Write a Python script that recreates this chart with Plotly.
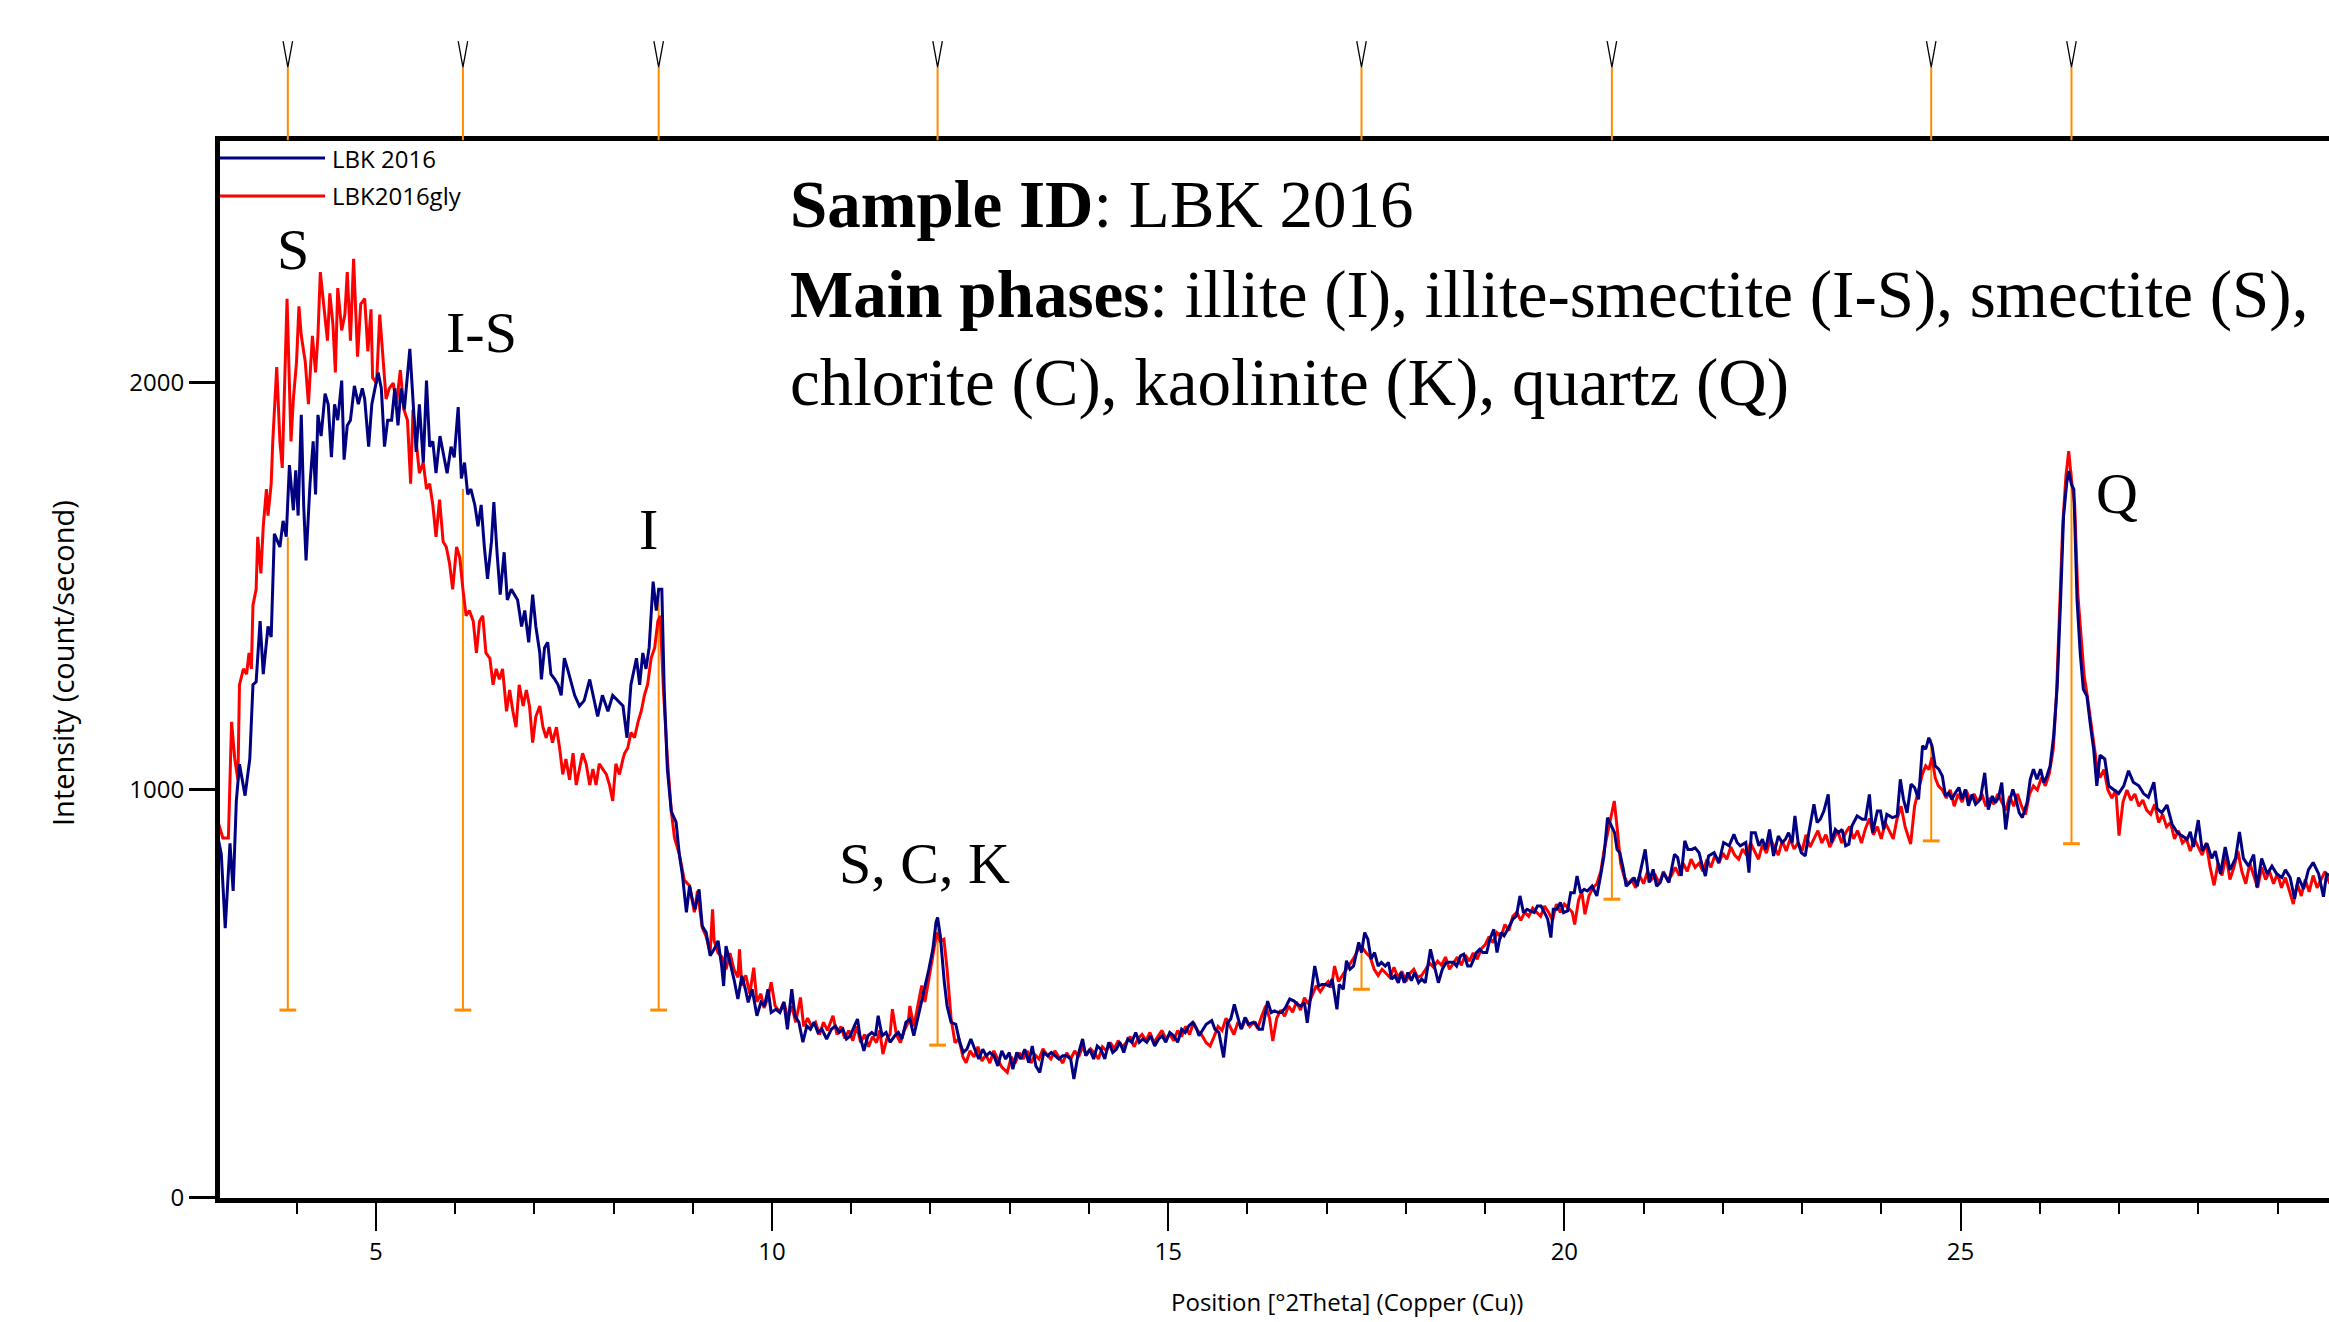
import plotly.graph_objects as go

# ---------------- data ----------------
# LBK 2016 (air-dried), (2theta, counts/s)
lbk2016 = [
(3.01,882),(3.05,843),(3.10,661),(3.16,869),(3.20,752),(3.24,973),(3.28,1063),(3.35,986),(3.41,1076),(3.45,1258),
(3.49,1265),(3.54,1414),(3.58,1284),(3.64,1401),(3.68,1375),(3.72,1628),(3.79,1596),(3.83,1660),(3.87,1621),(3.91,1797),
(3.96,1686),(3.99,1784),(4.02,1673),(4.06,1920),(4.09,1699),(4.12,1563),(4.17,1751),(4.21,1855),(4.24,1725),(4.27,1920),
(4.31,1868),(4.36,1972),(4.40,1946),(4.44,1816),(4.48,1946),(4.52,1907),(4.57,2004),(4.60,1810),(4.64,1894),(4.68,1907),
(4.73,1991),(4.78,1946),(4.83,1985),(4.86,1959),(4.91,1842),(4.95,1946),(4.99,1985),(5.03,2024),(5.07,1985),(5.11,1842),
(5.15,1907),(5.20,1907),(5.24,1985),(5.28,1894),(5.32,1985),(5.36,1933),(5.43,2082),(5.47,1946),(5.51,1829),(5.55,1946),
(5.60,1803),(5.64,2004),(5.68,1842),(5.72,1855),(5.76,1777),(5.81,1868),(5.85,1829),(5.90,1777),(5.95,1842),(5.99,1816),
(6.04,1939),(6.08,1764),(6.12,1803),(6.16,1725),(6.20,1738),(6.25,1699),(6.29,1647),(6.33,1699),(6.37,1596),(6.41,1518),
(6.46,1609),(6.49,1706),(6.53,1583),(6.57,1479),(6.62,1583),(6.66,1466),(6.71,1492),(6.75,1479),(6.79,1466),(6.84,1401),
(6.88,1440),(6.93,1362),(6.98,1479),(7.02,1401),(7.07,1336),(7.09,1271),(7.13,1349),(7.17,1362),(7.21,1284),(7.26,1271),
(7.30,1258),(7.34,1232),(7.38,1323),(7.42,1297),(7.47,1258),(7.51,1232),(7.57,1206),(7.63,1219),(7.70,1271),(7.74,1232),
(7.80,1180),(7.86,1232),(7.93,1193),(7.99,1232),(8.05,1219),(8.12,1206),(8.17,1128),(8.22,1258),(8.29,1323),(8.33,1258),
(8.37,1336),(8.41,1297),(8.45,1349),(8.50,1511),(8.54,1440),(8.57,1492),(8.61,1492),(8.64,1245),(8.68,1050),(8.73,947),
(8.79,921),(8.83,843),(8.87,791),(8.92,700),(8.96,765),(9.00,726),(9.03,707),(9.06,739),(9.08,756),(9.12,666),
(9.17,650),(9.22,593),(9.27,609),(9.32,630),(9.365,568),(9.39,519),(9.42,617),(9.47,577),(9.52,536),(9.57,487),
(9.62,544),(9.665,511),(9.70,479),(9.75,511),(9.81,446),(9.86,479),(9.906,470),(9.95,511),(9.99,454),(10.05,462),
(10.10,454),(10.15,479),(10.195,413),(10.25,511),(10.29,446),(10.34,430),(10.39,381),(10.44,421),(10.485,413),(10.53,430),
(10.58,405),(10.63,413),(10.69,389),(10.75,413),(10.80,421),(10.85,405),(10.895,413),(10.94,389),(10.99,397),(11.04,421),
(11.08,438),(11.11,397),(11.16,360),(11.21,397),(11.26,405),(11.306,397),(11.34,446),(11.39,397),(11.44,405),(11.49,381),
(11.55,397),(11.595,405),(11.64,389),(11.69,430),(11.74,438),(11.79,397),(11.84,438),(11.885,479),(11.93,511),(11.98,560),
(12.03,609),(12.07,675),(12.09,687),(12.125,642),(12.175,528),(12.21,470),(12.26,430),(12.32,425),(12.37,381),(12.415,356),
(12.46,364),(12.51,389),(12.56,364),(12.61,340),(12.66,364),(12.705,348),(12.75,356),(12.80,348),(12.85,323),(12.90,360),
(12.95,340),(12.995,356),(13.04,315),(13.09,356),(13.14,340),(13.19,364),(13.24,331),(13.285,372),(13.33,323),(13.38,307),
(13.43,356),(13.48,348),(13.525,356),(13.57,348),(13.62,340),(13.67,348),(13.72,348),(13.77,340),(13.81,291),(13.86,348),
(13.92,389),(13.96,348),(14.01,364),(14.06,340),(14.105,372),(14.15,364),(14.20,340),(14.25,381),(14.30,356),(14.346,364),
(14.39,381),(14.44,356),(14.49,389),(14.54,381),(14.59,405),(14.636,381),(14.68,389),(14.73,381),(14.78,397),(14.83,372),
(14.88,389),(14.925,397),(14.97,381),(15.02,405),(15.07,397),(15.12,381),(15.17,413),(15.215,405),(15.26,421),(15.31,430),
(15.36,413),(15.39,397),(15.44,413),(15.48,425),(15.55,434),(15.59,413),(15.64,405),(15.70,344),(15.75,429),(15.79,438),
(15.835,474),(15.88,438),(15.92,413),(15.97,442),(16.01,425),(16.06,429),(16.10,429),(16.145,413),(16.19,413),(16.255,482),
(16.30,454),(16.34,458),(16.39,454),(16.43,454),(16.48,466),(16.534,487),(16.59,482),(16.63,474),(16.676,470),(16.72,478),
(16.755,429),(16.80,495),(16.85,568),(16.90,519),(16.94,523),(16.985,523),(17.03,519),(17.07,536),(17.13,462),(17.16,523),
(17.21,511),(17.25,581),(17.295,560),(17.34,568),(17.405,626),(17.44,601),(17.48,650),(17.52,634),(17.56,585),(17.605,601),
(17.65,568),(17.69,577),(17.74,568),(17.78,577),(17.82,536),(17.86,544),(17.905,527),(17.94,552),(17.98,527),(18.025,552),
(18.07,532),(18.11,552),(18.16,527),(18.20,536),(18.245,527),(18.31,609),(18.356,568),(18.41,527),(18.46,560),(18.51,577),
(18.555,577),(18.60,577),(18.64,568),(18.69,593),(18.73,597),(18.78,568),(18.82,568),(18.89,601),(18.93,609),(18.97,601),
(19.02,601),(19.06,634),(19.11,658),(19.15,601),(19.20,650),(19.24,642),(19.285,658),(19.35,683),(19.395,691),(19.44,740),
(19.484,699),(19.53,707),(19.57,703),(19.62,699),(19.66,715),(19.705,715),(19.75,699),(19.79,683),(19.83,638),(19.86,707),
(19.904,707),(19.95,724),(19.99,699),(20.04,703),(20.08,748),(20.125,748),(20.16,789),(20.205,748),(20.25,756),(20.29,752),
(20.35,764),(20.41,740),(20.457,789),(20.50,838),(20.545,932),(20.59,911),(20.634,895),(20.665,854),(20.70,846),(20.745,805),
(20.78,764),(20.83,773),(20.88,785),(20.92,764),(20.965,801),(21.02,854),(21.07,773),(21.12,805),(21.165,764),(21.21,773),
(21.25,797),(21.32,773),(21.39,842),(21.43,834),(21.475,789),(21.52,875),(21.56,854),(21.61,854),(21.65,858),(21.70,846),
(21.74,814),(21.78,789),(21.82,838),(21.89,846),(21.95,822),(22.01,871),(22.08,863),(22.14,891),(22.18,871),(22.22,863),
(22.29,871),(22.33,797),(22.36,895),(22.41,895),(22.455,863),(22.50,879),(22.54,854),(22.59,903),(22.64,838),(22.70,887),
(22.75,871),(22.79,879),(22.83,895),(22.875,871),(22.91,936),(22.95,871),(22.99,846),(23.04,838),(23.085,895),(23.15,965),
(23.19,920),(23.23,928),(23.275,948),(23.33,989),(23.37,871),(23.42,903),(23.46,895),(23.505,903),(23.55,863),(23.59,867),
(23.63,912),(23.695,936),(23.76,928),(23.80,928),(23.85,989),(23.89,895),(23.95,948),(23.99,948),(24.03,903),(24.07,940),
(24.14,932),(24.20,936),(24.24,1026),(24.28,977),(24.325,944),(24.375,1014),(24.42,1006),(24.47,977),(24.52,1108),(24.56,1100),
(24.60,1128),(24.64,1108),(24.68,1059),(24.725,1051),(24.77,1034),(24.81,985),(24.85,993),(24.89,977),(24.935,993),(24.98,1006),
(25.02,977),(25.06,1001),(25.10,961),(25.145,989),(25.19,965),(25.25,977),(25.305,1042),(25.35,952),(25.40,985),(25.44,969),
(25.48,981),(25.52,1018),(25.57,903),(25.615,969),(25.66,1001),(25.70,977),(25.74,944),(25.78,932),(25.84,969),(25.88,1026),
(25.92,1051),(25.965,1026),(26.01,1051),(26.05,1018),(26.09,1034),(26.13,1059),(26.175,1132),(26.22,1255),(26.26,1451),(26.30,1671),
(26.34,1753),(26.365,1782),(26.40,1749),(26.43,1737),(26.47,1467),(26.51,1336),(26.55,1247),(26.595,1230),(26.64,1157),(26.68,1100),
(26.72,1010),(26.76,1085),(26.82,1076),(26.87,1010),(26.93,1001),(26.995,991),(27.06,1010),(27.12,1047),(27.18,1019),(27.25,1010),
(27.31,991),(27.37,982),(27.44,1019),(27.48,954),(27.54,944),(27.605,963),(27.67,916),(27.73,897),(27.79,888),(27.86,879),
(27.90,897),(27.94,860),(28.00,926),(28.05,851),(28.11,869),(28.17,832),(28.215,850),(28.28,794),(28.34,860),(28.40,804),
(28.47,832),(28.52,897),(28.57,832),(28.635,813),(28.70,841),(28.74,761),(28.80,832),(28.87,794),(28.93,813),(28.99,794),
(29.055,785),(29.10,804),(29.16,785),(29.215,733),(29.265,785),(29.33,757),(29.39,804),(29.45,822),(29.52,794),(29.58,738),
(29.62,794),(29.66,790),
]

# LBK2016gly (glycolated), (2theta, counts/s)
lbk2016gly = [
(3.01,921),(3.07,882),(3.14,882),(3.18,1167),(3.22,1076),(3.26,1025),(3.28,1258),(3.33,1297),(3.37,1284),(3.40,1336),
(3.43,1297),(3.45,1453),(3.49,1492),(3.51,1621),(3.55,1531),(3.58,1647),(3.62,1738),(3.64,1673),(3.68,1751),(3.70,1855),
(3.75,2037),(3.79,1855),(3.82,1790),(3.85,2024),(3.88,2205),(3.93,1855),(3.96,1959),(4.00,2050),(4.03,2186),(4.06,2114),
(4.11,2050),(4.15,1946),(4.20,2114),(4.24,2024),(4.27,2114),(4.30,2270),(4.35,2179),(4.39,2102),(4.42,2218),(4.46,2140),
(4.49,2024),(4.52,2231),(4.57,2127),(4.61,2166),(4.64,2270),(4.68,2102),(4.72,2303),(4.77,2063),(4.81,2192),(4.86,2205),
(4.90,2076),(4.94,2179),(4.96,2011),(5.01,1998),(5.05,2166),(5.09,2063),(5.13,1959),(5.17,1985),(5.22,1998),(5.26,1946),
(5.31,2030),(5.355,1933),(5.40,1907),(5.44,1751),(5.47,1933),(5.51,1855),(5.55,1777),(5.60,1803),(5.64,1738),(5.68,1751),
(5.72,1699),(5.76,1621),(5.805,1712),(5.85,1609),(5.89,1596),(5.93,1557),(5.97,1492),(6.02,1596),(6.06,1570),(6.10,1492),
(6.14,1427),(6.18,1440),(6.23,1414),(6.27,1336),(6.31,1414),(6.35,1427),(6.39,1336),(6.44,1323),(6.48,1258),(6.52,1297),
(6.56,1271),(6.60,1297),(6.65,1193),(6.69,1245),(6.73,1193),(6.77,1154),(6.81,1258),(6.86,1206),(6.90,1245),(6.94,1206),
(6.98,1116),(7.02,1180),(7.07,1206),(7.11,1154),(7.15,1128),(7.19,1154),(7.23,1116),(7.28,1154),(7.32,1103),(7.36,1038),
(7.40,1076),(7.445,1025),(7.49,1090),(7.53,1012),(7.57,1051),(7.61,1090),(7.655,1064),(7.70,1012),(7.74,1051),(7.78,1012),
(7.82,1064),(7.865,1051),(7.91,1038),(7.95,1012),(7.99,973),(8.03,1064),(8.075,1038),(8.12,1076),(8.14,1090),(8.18,1103),
(8.22,1141),(8.265,1128),(8.31,1167),(8.35,1193),(8.39,1232),(8.43,1258),(8.475,1323),(8.52,1349),(8.56,1414),(8.59,1427),
(8.63,1245),(8.68,1076),(8.73,947),(8.77,882),(8.83,843),(8.895,778),(8.96,765),(9.02,700),(9.06,752),(9.12,662),
(9.17,640),(9.22,600),(9.25,707),(9.27,630),(9.32,600),(9.37,590),(9.42,560),(9.47,600),(9.52,560),(9.57,540),
(9.59,609),(9.62,520),(9.67,545),(9.72,500),(9.77,564),(9.81,480),(9.86,500),(9.90,465),(9.95,490),(9.99,528),
(10.04,470),(10.10,455),(10.15,480),(10.20,440),(10.25,470),(10.30,430),(10.36,491),(10.40,420),(10.45,440),(10.50,420),
(10.55,430),(10.60,400),(10.65,430),(10.70,410),(10.77,446),(10.82,400),(10.87,420),(10.92,390),(10.97,410),(11.02,385),
(11.07,420),(11.12,380),(11.17,400),(11.22,370),(11.27,395),(11.32,380),(11.36,410),(11.40,352),(11.45,390),(11.49,400),
(11.52,462),(11.57,400),(11.62,380),(11.67,410),(11.72,430),(11.74,470),(11.79,420),(11.84,470),(11.89,520),(11.93,480),
(11.98,540),(12.03,590),(12.08,650),(12.12,630),(12.17,634),(12.21,560),(12.26,440),(12.31,380),(12.36,390),(12.41,345),
(12.45,331),(12.50,360),(12.55,345),(12.60,370),(12.65,335),(12.70,350),(12.75,330),(12.80,360),(12.85,340),(12.90,320),
(12.97,307),(13.02,345),(13.07,330),(13.12,355),(13.17,340),(13.22,360),(13.27,330),(13.32,350),(13.37,340),(13.42,365),
(13.47,350),(13.52,340),(13.57,360),(13.62,345),(13.67,330),(13.72,355),(13.77,340),(13.82,360),(13.87,345),(13.92,370),
(13.97,350),(14.02,365),(14.07,355),(14.12,340),(14.17,370),(14.22,360),(14.27,380),(14.32,365),(14.37,385),(14.42,370),
(14.47,380),(14.52,395),(14.57,370),(14.62,390),(14.67,400),(14.72,385),(14.77,405),(14.82,380),(14.87,395),(14.92,410),
(14.97,390),(15.02,400),(15.07,385),(15.12,410),(15.17,395),(15.22,420),(15.27,400),(15.32,430),(15.37,410),(15.42,400),
(15.48,380),(15.53,372),(15.58,395),(15.63,420),(15.68,410),(15.73,440),(15.78,420),(15.83,400),(15.88,430),(15.93,415),
(15.98,440),(16.03,420),(16.08,430),(16.13,415),(16.18,445),(16.23,470),(16.28,440),(16.32,384),(16.37,440),(16.42,460),
(16.47,445),(16.52,470),(16.57,455),(16.62,480),(16.67,460),(16.72,490),(16.77,475),(16.82,500),(16.87,520),(16.92,505),
(16.97,520),(17.02,530),(17.06,515),(17.10,568),(17.15,530),(17.20,545),(17.25,560),(17.30,575),(17.35,590),(17.40,610),
(17.45,613),(17.50,600),(17.55,590),(17.60,560),(17.65,545),(17.70,560),(17.75,550),(17.80,540),(17.85,565),(17.90,540),
(17.95,555),(18.00,530),(18.05,550),(18.10,560),(18.15,540),(18.20,545),(18.25,560),(18.30,575),(18.35,565),(18.40,580),
(18.45,570),(18.50,590),(18.55,560),(18.60,575),(18.65,590),(18.70,570),(18.75,595),(18.80,580),(18.85,600),(18.90,585),
(18.95,610),(19.00,620),(19.05,640),(19.10,625),(19.15,650),(19.20,640),(19.25,670),(19.30,655),(19.35,690),(19.40,700),
(19.45,680),(19.50,700),(19.55,690),(19.60,710),(19.65,700),(19.70,690),(19.75,715),(19.80,700),(19.85,680),(19.90,720),
(19.95,700),(20.00,720),(20.05,710),(20.10,700),(20.13,670),(20.18,730),(20.22,750),(20.26,695),(20.31,740),(20.36,760),
(20.41,770),(20.46,800),(20.50,850),(20.55,900),(20.60,950),(20.63,973),(20.67,900),(20.71,820),(20.75,790),(20.80,770),
(20.85,780),(20.90,760),(20.95,790),(21.00,770),(21.05,800),(21.10,780),(21.15,790),(21.20,770),(21.25,800),(21.30,780),
(21.35,790),(21.40,810),(21.45,790),(21.50,820),(21.55,800),(21.60,830),(21.65,810),(21.70,820),(21.75,800),(21.80,830),
(21.85,810),(21.90,840),(21.95,820),(22.00,845),(22.05,830),(22.10,860),(22.15,840),(22.20,830),(22.25,855),(22.30,840),
(22.35,870),(22.40,850),(22.45,830),(22.50,865),(22.55,845),(22.60,880),(22.65,860),(22.70,840),(22.75,875),(22.80,850),
(22.85,880),(22.90,855),(22.95,870),(23.00,850),(23.05,890),(23.10,860),(23.15,880),(23.20,900),(23.25,870),(23.30,890),
(23.35,860),(23.40,880),(23.45,900),(23.50,870),(23.55,895),(23.60,910),(23.65,880),(23.70,900),(23.75,870),(23.80,905),
(23.85,930),(23.90,890),(23.95,910),(24.00,880),(24.05,920),(24.10,900),(24.15,880),(24.20,930),(24.25,960),(24.30,910),
(24.35,880),(24.37,867),(24.42,960),(24.47,1000),(24.52,1040),(24.56,1059),(24.60,1050),(24.64,1080),(24.68,1030),(24.72,1010),
(24.77,1000),(24.82,980),(24.87,1000),(24.92,960),(24.97,990),(25.02,970),(25.07,1000),(25.12,975),(25.17,990),(25.22,970),
(25.27,990),(25.32,960),(25.37,980),(25.42,965),(25.47,990),(25.52,970),(25.57,950),(25.62,985),(25.67,960),(25.72,990),
(25.77,960),(25.82,940),(25.87,990),(25.92,1010),(25.97,1000),(26.02,1030),(26.07,1010),(26.12,1040),(26.17,1100),(26.21,1230),
(26.25,1420),(26.29,1650),(26.33,1770),(26.365,1831),(26.40,1760),(26.44,1700),(26.48,1480),(26.52,1380),(26.56,1280),(26.60,1230),
(26.64,1170),(26.68,1110),(26.72,1060),(26.76,1030),(26.81,1050),(26.86,1000),(26.91,980),(26.96,1000),(27.00,888),(27.05,970),
(27.10,1000),(27.15,975),(27.20,990),(27.25,960),(27.30,975),(27.35,950),(27.40,940),(27.45,965),(27.50,920),(27.55,940),
(27.60,910),(27.65,920),(27.70,880),(27.75,900),(27.80,870),(27.85,880),(27.90,850),(27.95,880),(28.00,860),(28.05,840),
(28.10,870),(28.15,810),(28.20,766),(28.25,820),(28.30,790),(28.35,840),(28.40,780),(28.45,810),(28.50,850),(28.55,800),
(28.60,770),(28.65,820),(28.70,790),(28.75,760),(28.80,810),(28.85,780),(28.90,800),(28.95,770),(29.00,795),(29.05,760),
(29.10,785),(29.15,750),(29.20,720),(29.25,770),(29.30,740),(29.35,780),(29.40,750),(29.45,790),(29.50,760),(29.55,780),
(29.60,800),(29.66,770),
]

# peak list (reference sticks)
peak_pos = [3.89, 6.10, 8.57, 12.09, 17.44, 20.60, 24.63, 26.40]
peak_top = [1620, 1738, 1480, 687, 617, 903, 1124, 1782]
peak_base = [460, 460, 460, 374, 511, 732, 875, 868]

# phase labels
phase_text = ["S", "I-S", "I", "S, C, K", "Q"]
phase_x = [3.96, 6.34, 8.44, 11.92, 26.97]
phase_y = [2326, 2123, 1640, 820, 1726]

series_names = ["LBK 2016", "LBK2016gly"]
series_colors = ["#000080", "#FF0000"]
orange = "#FF8C00"

# ---------------- figure ----------------
fig = go.Figure()

# peak sticks
sx, sy = [], []
for p, t, b in zip(peak_pos, peak_top, peak_base):
    sx += [p, p, None]
    sy += [b, t, None]
fig.add_trace(go.Scatter(x=sx, y=sy, mode="lines", line=dict(color=orange, width=2),
                         hoverinfo="skip", showlegend=False))
fig.add_trace(go.Scatter(x=peak_pos, y=peak_base, mode="markers",
                         marker=dict(symbol="line-ew", size=12, line=dict(color=orange, width=3)),
                         hoverinfo="skip", showlegend=False))

# data series (glycolated drawn first, air-dried on top)
for data, name, col in [(lbk2016gly, series_names[1], series_colors[1]),
                        (lbk2016, series_names[0], series_colors[0])]:
    fig.add_trace(go.Scatter(x=[d[0] for d in data], y=[d[1] for d in data], mode="lines",
                             name=name, line=dict(color=col, width=3), showlegend=False))

# peak markers above the plot (on a strip axis)
stem_top, tip_top, arm = 0.665, 0.9, 0.06
mx, my, vx, vy = [], [], [], []
for p in peak_pos:
    mx += [p, p, None]
    my += [0, stem_top, None]
    vx += [p - arm, p, p + arm, None]
    vy += [tip_top, stem_top, tip_top, None]
fig.add_trace(go.Scatter(x=mx, y=my, yaxis="y2", mode="lines", line=dict(color=orange, width=2),
                         hoverinfo="skip", showlegend=False))
fig.add_trace(go.Scatter(x=vx, y=vy, yaxis="y2", mode="lines", line=dict(color="black", width=1.3),
                         hoverinfo="skip", showlegend=False))

W, H = 2329, 1322
ml, mr, mt, mb = 220, 0, 30, 124
plot_h = H - mt - mb
plot_w = W - ml - mr
main_top = (H - mb - 140.5) / plot_h

tick_font = dict(family="Open Sans", size=24, color="black")
fig.update_layout(
    width=W, height=H,
    margin=dict(l=ml, r=mr, t=mt, b=mb),
    paper_bgcolor="white", plot_bgcolor="white",
    showlegend=False,
    xaxis=dict(range=[3.034, 29.65], showgrid=False, zeroline=False,
               showline=True, linewidth=5, linecolor="black", mirror=True,
               ticks="outside", ticklen=28, tickwidth=2, tickcolor="black",
               tick0=0, dtick=5, tickfont=tick_font,
               minor=dict(ticks="outside", ticklen=11, tickwidth=2, tickcolor="black", dtick=1, showgrid=False)),
    yaxis=dict(domain=[0, main_top], range=[-1, 2593], showgrid=False, zeroline=False,
               showline=True, linewidth=5, linecolor="black", mirror=False,
               ticks="outside", ticklen=26, tickwidth=3, tickcolor="black",
               tickvals=[0, 1000, 2000], tickfont=tick_font),
    yaxis2=dict(domain=[main_top, 1], range=[0, 1], visible=False, anchor="x",
                showgrid=False, zeroline=False),
)

annotations = []
serif = "Liberation Serif"
for t, x, y in zip(phase_text, phase_x, phase_y):
    annotations.append(dict(x=x, y=y, xref="x", yref="y", text=t, showarrow=False,
                            xanchor="center", yanchor="middle",
                            font=dict(family=serif, size=58, color="black")))

info_lines = ["<b>Sample ID</b>: LBK 2016",
              "<b>Main phases</b>: illite (I), illite-smectite (I-S), smectite (S),",
              "chlorite (C), kaolinite (K), quartz (Q)"]
info_y_px = [204, 294, 383]
for t, ypx in zip(info_lines, info_y_px):
    annotations.append(dict(x=(788 - ml) / plot_w, y=(H - mb - ypx) / plot_h, xref="paper", yref="paper",
                            text=t, showarrow=False, xanchor="left", yanchor="middle",
                            font=dict(family=serif, size=67, color="black")))

# legend (manual, long line samples)
leg_y_px = [158, 196]
for name, col, ypx in zip(series_names, series_colors, leg_y_px):
    yp = (H - mb - ypx) / plot_h
    fig.add_shape(type="line", xref="paper", yref="paper", x0=0, x1=(325 - ml) / plot_w,
                  y0=yp, y1=yp, line=dict(color=col, width=3))
    annotations.append(dict(x=(330 - ml) / plot_w, y=yp, xref="paper", yref="paper", text=name,
                            showarrow=False, xanchor="left", yanchor="middle",
                            font=dict(family="Open Sans", size=24, color="black")))

# axis titles
annotations.append(dict(x=(1347 - ml) / plot_w, y=(H - mb - 1301) / plot_h, xref="paper", yref="paper",
                        text="Position [°2Theta] (Copper (Cu))", showarrow=False,
                        xanchor="center", yanchor="middle",
                        font=dict(family="Open Sans", size=24, color="black")))
annotations.append(dict(x=(63 - ml) / plot_w, y=(H - mb - 663) / plot_h, xref="paper", yref="paper",
                        text="Intensity (count/second)", showarrow=False, textangle=-90,
                        xanchor="center", yanchor="middle",
                        font=dict(family="Open Sans", size=29, color="black")))

fig.update_layout(annotations=annotations)
fig.write_html("out.html")
